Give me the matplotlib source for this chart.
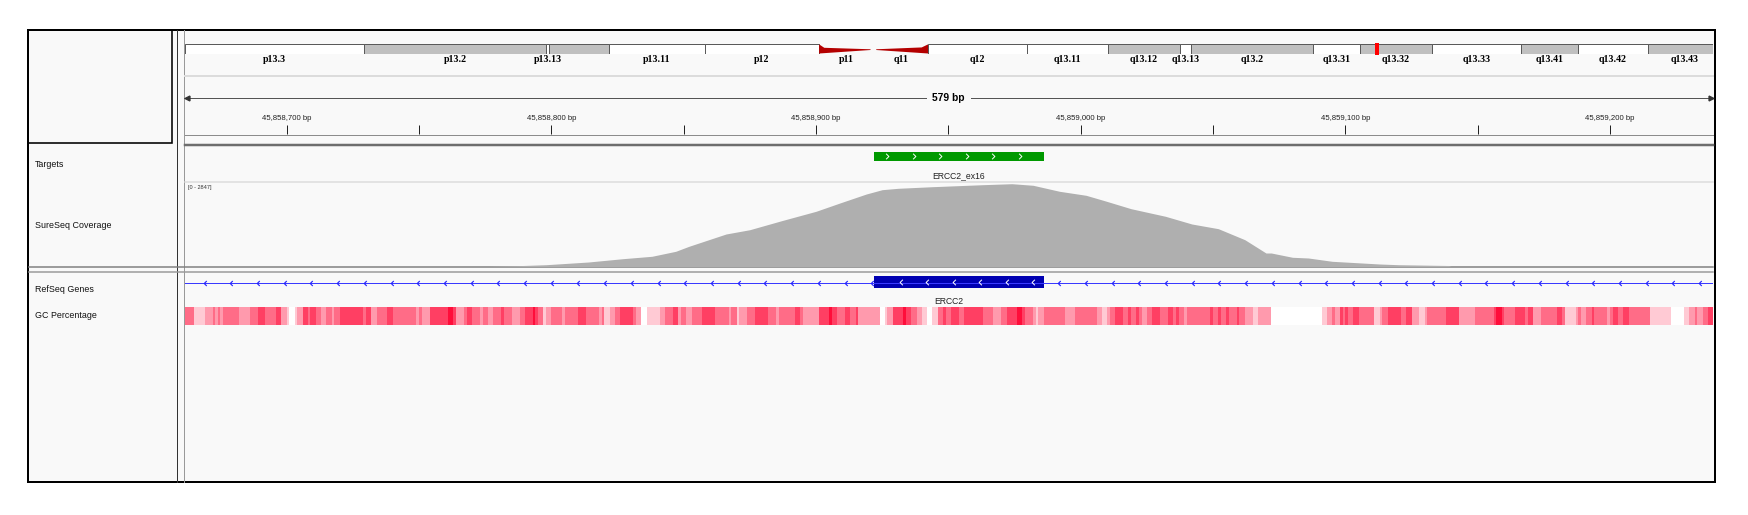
import numpy as np
import matplotlib
matplotlib.use("Agg")
from matplotlib import pyplot as plt
from matplotlib.patches import Rectangle, Polygon
from matplotlib.path import Path
from matplotlib.transforms import blended_transform_factory

plt.rcParams["font.family"] = ["Liberation Sans", "DejaVu Sans"]

# --- data -------------------------------------------------------------
# visible region on chr19
view_start = 45858661.4
view_end = 45859238.9
span_label = "579 bp"

# chr19 cytobands (Mb)
band_name = ["p13.3", "p13.2", "p13.13", "p13.12", "p13.11", "p12", "p11", "q11", "q12",
             "q13.11", "q13.12", "q13.13", "q13.2", "q13.31", "q13.32", "q13.33",
             "q13.41", "q13.42", "q13.43"]
band_start = [0.0, 6.9, 13.9, 14.0, 16.3, 20.0, 24.4, 26.5, 28.6,
              32.4, 35.5, 38.3, 38.7, 43.4, 45.2, 48.0, 51.4, 53.6, 56.3]
band_end = [6.9, 13.9, 14.0, 16.3, 20.0, 24.4, 26.5, 28.6, 32.4,
            35.5, 38.3, 38.7, 43.4, 45.2, 48.0, 51.4, 53.6, 56.3, 59.13]
band_stain = ["gneg", "gpos", "gneg", "gpos", "gneg", "gneg", "acen", "acen", "gneg",
              "gneg", "gpos", "gneg", "gpos", "gneg", "gpos", "gneg", "gpos", "gneg", "gpos"]
hidden_labels = ["p13.12"]

major_ticks = [45858700, 45858800, 45858900, 45859000, 45859100, 45859200]
minor_ticks = [45858750, 45858850, 45858950, 45859050, 45859150]

track_names = ["Targets", "SureSeq Coverage", "RefSeq Genes", "GC Percentage"]
target_name = "ERCC2_ex16"
target_start, target_end = 45858922, 45858986
gene_name = "ERCC2"
exon_start, exon_end = 45858922, 45858986

cov_max = 2847
cov_pos = [45858776, 45858778, 45858787, 45858798, 45858814, 45858827, 45858838, 45858847,
           45858852, 45858866, 45858875, 45858887, 45858900, 45858909, 45858919, 45858925,
           45858931, 45858944, 45858963, 45858974, 45858982, 45858992, 45859002, 45859009,
           45859019, 45859032, 45859042, 45859052, 45859062, 45859070, 45859072, 45859080,
           45859086, 45859095, 45859113, 45859120, 45859139, 45859140]
cov_val = [0, 7, 27, 61, 153, 266, 348, 518,
           689, 1108, 1255, 1562, 1882, 2165, 2472, 2619,
           2666, 2721, 2789, 2823, 2769, 2564, 2428, 2244,
           1971, 1712, 1449, 1289, 914, 460, 460, 314,
           290, 177, 85, 61, 34, 0]

# GC percentage heat strip: segment start (bp from gc_origin) and colour level 0..5
gc_origin = 45858661
gc_offset = [0, 4, 8, 11, 12, 13, 14, 15, 21, 25, 28, 31, 35, 37, 39, 40, 42, 43, 45, 47,
             48, 50, 52, 54, 56, 57, 59, 68, 69, 71, 73, 77, 79, 88, 89, 90, 93, 100, 102, 103,
             106, 107, 109, 112, 113, 115, 117, 120, 121, 124, 127, 129, 132, 133, 134, 136, 137, 139, 143, 144,
             149, 152, 157, 158, 159, 161, 163, 165, 170, 171, 173, 175, 180, 182, 185, 187, 188, 190, 192, 196,
             201, 206, 207, 209, 210, 213, 216, 221, 224, 225, 231, 233, 234, 240, 244, 245, 247, 250, 252, 254,
             255, 263, 265, 266, 268, 272, 273, 275, 277, 279, 281, 283, 285, 287, 288, 290, 293, 295,
             302, 306, 309, 311, 315, 317, 318, 321, 322, 323, 325, 333, 337, 345, 347, 349, 350, 352,
             355, 357, 358, 360, 361, 362, 364, 366, 369, 372, 374, 375, 376, 378, 379, 388, 389, 391,
             392, 394, 395, 398, 399, 401, 404, 406, 411, 430, 432, 434, 435, 437, 438, 439, 440, 442, 444,
             450, 452, 453, 455, 460, 462, 464, 467, 469, 470, 477, 482, 488, 495, 496, 498, 499, 503,
             507, 508, 510, 513, 519, 521, 522, 526, 527, 528, 530, 532, 533, 538, 539, 540, 542, 544,
             546, 554, 562, 567, 569, 571, 572, 574, 576]
gc_level = [3, 1, 2, 3, 2, 3, 2, 3, 2, 3, 4, 3, 4, 2, 1, 0, 1, 2, 4, 3,
            4, 3, 2, 3, 2, 3, 4, 3, 4, 2, 3, 4, 3, 2, 3, 2, 4, 5, 4, 2,
            3, 4, 3, 2, 3, 2, 3, 4, 3, 2, 3, 4, 5, 4, 3, 1, 2, 3, 2, 3,
            4, 3, 2, 3, 1, 2, 3, 4, 3, 2, 0, 1, 2, 3, 4, 2, 3, 2, 3, 4,
            3, 2, 3, 1, 2, 3, 4, 3, 2, 3, 4, 3, 2, 4, 5, 4, 3, 4, 3, 4,
            2, 0, 1, 2, 4, 5, 4, 3, 2, 1, 0, 1, 3, 4, 3, 4, 3, 4,
            3, 2, 3, 4, 5, 4, 3, 2, 1, 2, 3, 2, 3, 2, 1, 2, 3, 4,
            3, 4, 3, 4, 3, 2, 3, 4, 3, 4, 3, 4, 3, 2, 3, 4, 3, 4,
            3, 4, 3, 4, 3, 2, 1, 2, 0, 1, 2, 3, 2, 4, 3, 4, 3, 4, 3,
            1, 2, 3, 4, 3, 4, 2, 1, 2, 3, 4, 2, 3, 4, 5, 4, 3, 4,
            3, 4, 2, 3, 4, 3, 1, 2, 3, 2, 3, 4, 3, 2, 3, 4, 3, 4,
            3, 1, 0, 1, 2, 3, 2, 3, 4]
gc_end_offset = 578
gc_palette = ["#ffffff", "#ffcad4", "#ff9aad", "#ff6c87", "#ff3f63", "#ff0d3a"]

# --- figure -----------------------------------------------------------
W, H = 1748, 515
fig = plt.figure(figsize=(W / 100, H / 100), dpi=100)
fig.patch.set_facecolor("white")
PX = 0.72  # points per pixel


def px_axes(x0, y0, x1, y1):
    ax = fig.add_axes([x0 / W, 1 - y1 / H, (x1 - x0) / W, (y1 - y0) / H])
    ax.set_axis_off()
    return ax


bg = px_axes(0, 0, W, H)
bg.set_xlim(0, W)
bg.set_ylim(H, 0)

data_x0, data_x1 = 184.5, 1713
bg.add_patch(Rectangle((28, 30), 1687, 452, facecolor="#f9f9f9", edgecolor="black", lw=2 * PX))
bg.add_patch(Rectangle((28, 30), 144, 113, facecolor="none", edgecolor="black", lw=1.6 * PX))
bg.plot([177, 177], [30, 482], color="#333333", lw=1 * PX)
bg.plot([184, 184], [30, 482], color="#999999", lw=1 * PX)
# header separators
bg.plot([data_x0, data_x1], [76, 76], color="#dcdcdc", lw=2 * PX)
bg.plot([data_x0, data_x1], [134.5, 134.5], color="#8c8c8c", lw=1 * PX)
bg.plot([data_x0, data_x1], [144.5, 144.5], color="#6e6e6e", lw=2.5 * PX)
# track separators
bg.plot([data_x0, data_x1], [181.7, 181.7], color="#dcdcdc", lw=1.5 * PX)
bg.plot([29, data_x1], [267, 267], color="#7f7f7f", lw=1.5 * PX)
bg.plot([29, data_x1], [271.5, 271.5], color="#9a9a9a", lw=1.5 * PX)

# track names
for name, y in zip(track_names, [164.3, 225.7, 290, 316]):
    bg.text(35, y, name, fontsize=6.4, va="center", ha="left", color="#111111")

# --- ideogram ---------------------------------------------------------
ideo = px_axes(185, 44.3, 1713, 53.5)
ideo.set_xlim(0, 58.8)
ideo.set_ylim(0, 1)
lab_tr = blended_transform_factory(ideo.transData, ideo.transAxes)
for name, s, e, st in zip(band_name, band_start, band_end, band_stain):
    if st == "acen":
        if name.startswith("p"):
            pts = [(s, 0), (s, 1), (s + 0.2, 0.62), (e - 0.12, 0.46), (e - 0.12, 0.38)]
        else:
            pts = [(s + 0.1, 0.38), (s + 0.1, 0.46), (e - 0.25, 0.66), (e, 1), (e, 0)]
        ideo.add_patch(Polygon(pts, closed=True, facecolor="#b40000", edgecolor="none"))
    else:
        fc = "#c0c0c0" if st == "gpos" else "white"
        ideo.add_patch(Rectangle((s, 0), e - s, 1, facecolor=fc, edgecolor="#5a5a5a", lw=1 * PX))
    if name not in hidden_labels:
        ideo.text((s + e) / 2, -0.66, name, transform=lab_tr, ha="center", va="center",
                  fontsize=7.2, fontweight="bold", family="Liberation Serif", clip_on=False)
loc_mb = (view_start + view_end) / 2 / 1e6
ideo.add_patch(Rectangle((loc_mb - 0.075, -0.15), 0.15, 1.3, facecolor="#ff0000",
                         edgecolor="none", clip_on=False))

# --- ruler ------------------------------------------------------------
rul = px_axes(data_x0, 80, data_x1, 135)
rul.set_xlim(view_start, view_end)
rul.set_ylim(135, 80)
rul.plot([view_start, view_end], [98.3, 98.3], color="#555555", lw=1 * PX, clip_on=False)
rul.plot([view_start + 0.8], [98.3], marker="<", color="#333333", ms=3.5, clip_on=False)
rul.plot([view_end - 0.8], [98.3], marker=">", color="#333333", ms=3.5, clip_on=False)
rul.text((view_start + view_end) / 2, 98.3, span_label, ha="center", va="center",
         fontsize=7.4, fontweight="bold",
         bbox=dict(facecolor="#f9f9f9", edgecolor="none", pad=4))
rul.vlines(major_ticks + minor_ticks, 125, 133.5, color="#222222", lw=1 * PX)
for t in major_ticks:
    rul.text(t, 118.3, f"{t:,} bp", ha="center", va="center", fontsize=5.6, color="#222222")

# --- coverage ---------------------------------------------------------
cov = px_axes(data_x0, 183, data_x1, 266.5)
cov.set_xlim(view_start, view_end)
cov.set_ylim(0, cov_max)
cov.fill_between(cov_pos, cov_val, color="#afafaf", lw=0)
bg.text(188.5, 187.7, f"[0 - {cov_max}]", fontsize=4, va="center", ha="left", color="#333333")

# --- feature tracks ---------------------------------------------------
trk = px_axes(data_x0, 146, data_x1, 330)
trk.set_xlim(view_start, view_end)
trk.set_ylim(330, 146)

chev_r = Path([(-0.5, 1), (0.5, 0), (-0.5, -1)], [Path.MOVETO, Path.LINETO, Path.LINETO])
chev_l = Path([(0.5, 1), (-0.5, 0), (0.5, -1)], [Path.MOVETO, Path.LINETO, Path.LINETO])

# targets
trk.add_patch(Rectangle((target_start, 151.7), target_end - target_start, 9,
                        facecolor="#009900", edgecolor="none"))
tx = np.arange(target_start + 5, target_end - 3, 10)
trk.plot(tx, np.full(len(tx), 156.2), ls="none", marker=chev_r, ms=4, mfc="none",
         mec="white", mew=0.7)
trk.text((target_start + target_end) / 2, 175.7, target_name, ha="center", va="center",
         fontsize=6.2, color="#222222")

# gene
trk.plot([view_start, view_end], [282.7, 282.7], color="#3a3aff", lw=1 * PX)
ix = np.arange(view_start + 7.6, view_end, 10.09)
ix = ix[(ix < exon_start) | (ix > exon_end)]
trk.plot(ix, np.full(len(ix), 282.7), ls="none", marker=chev_l, ms=3.6, mfc="none",
         mec="#2020ff", mew=0.8)
trk.add_patch(Rectangle((exon_start, 276), exon_end - exon_start, 12.3,
                        facecolor="#0000b2", edgecolor="none"))
ex = np.arange(exon_start + 10, exon_end, 10)
trk.plot(ex, np.full(len(ex), 282.2), ls="none", marker=chev_l, ms=4, mfc="none",
         mec="white", mew=0.7)
trk.text((view_start + view_end) / 2, 301.7, gene_name, ha="center", va="center",
         fontsize=6.2, color="#222222")

# GC percentage
gc_start = gc_origin + np.array(gc_offset, dtype=float)
gc_stop = np.append(gc_start[1:], gc_origin + gc_end_offset)
gc_start[0] = max(gc_start[0], view_start)
trk.bar(gc_start, 18.3, width=gc_stop - gc_start, bottom=306.7, align="edge",
        color=[gc_palette[v] for v in gc_level], linewidth=0, antialiased=False)

fig.savefig("out.png", dpi=100)
plt.close()
